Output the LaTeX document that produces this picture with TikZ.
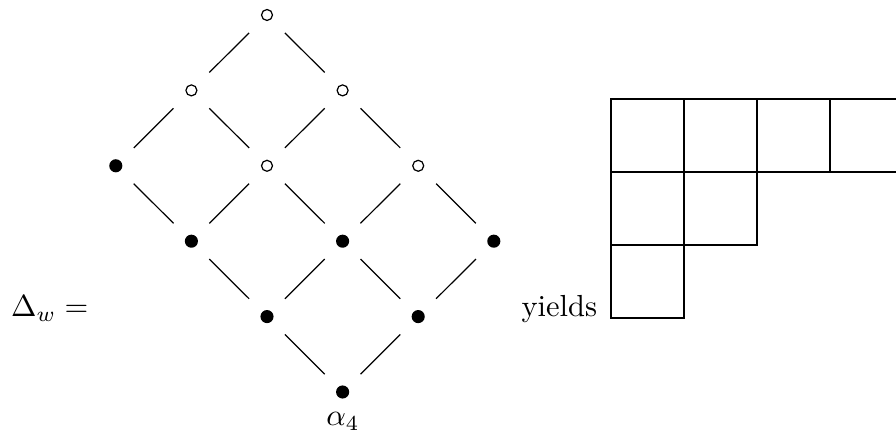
\documentclass[tikz,border=0pt]{standalone}
\begin{document}
\begin{tikzpicture}[x=0.328pt,y=-0.328pt,
  opendot/.style={circle,draw,line width=0.4pt,minimum size=3.6pt,inner sep=0pt},
  fulldot/.style={circle,fill,minimum size=4.3pt,inner sep=0pt},
  edge/.style={line width=0.4pt,shorten <=8.3pt,shorten >=8.3pt},
  cell/.style={line width=0.4pt}]
\useasboundingbox (0,0) rectangle (896,436);
% lattice positions: column k, row r
\def\px#1{115.8+#1*75.6}
\def\py#1{15+#1*75.4}
\foreach \r/\k/\s in {0/2/opendot,1/1/opendot,1/3/opendot,
                      2/0/fulldot,2/2/opendot,2/4/opendot,
                      3/1/fulldot,3/3/fulldot,3/5/fulldot,
                      4/2/fulldot,4/4/fulldot,5/3/fulldot}
  \node[\s] (n\r\k) at ({\px{\k}},{\py{\r}}) {};
\foreach \a/\b in {02/11,02/13,11/20,11/22,13/22,13/24,
                   20/31,22/31,22/33,24/33,24/35,
                   31/42,33/42,33/44,35/44,42/53,44/53}
  \draw[edge] (n\a.center) -- (n\b.center);
\node[anchor=base,inner sep=0pt] (lab) at (343,426) {$\alpha_4$};
\node[anchor=base west,inner sep=0pt] (delta) at (10.5,317) {$\Delta_w =$};
\node[anchor=base west,inner sep=0pt] (yields) at (521,317) {yields};
% Young diagram of shape (4,2,1)
\begin{scope}
\clip (0,0) rectangle (896,436);
\foreach \i in {0,1,2,3} \draw[cell] (611+\i*73,99) rectangle ++(73,73);
\foreach \i in {0,1} \draw[cell] (611+\i*73,172) rectangle ++(73,73);
\draw[cell] (611,245) rectangle ++(73,73);
\end{scope}
\end{tikzpicture}
\end{document}
